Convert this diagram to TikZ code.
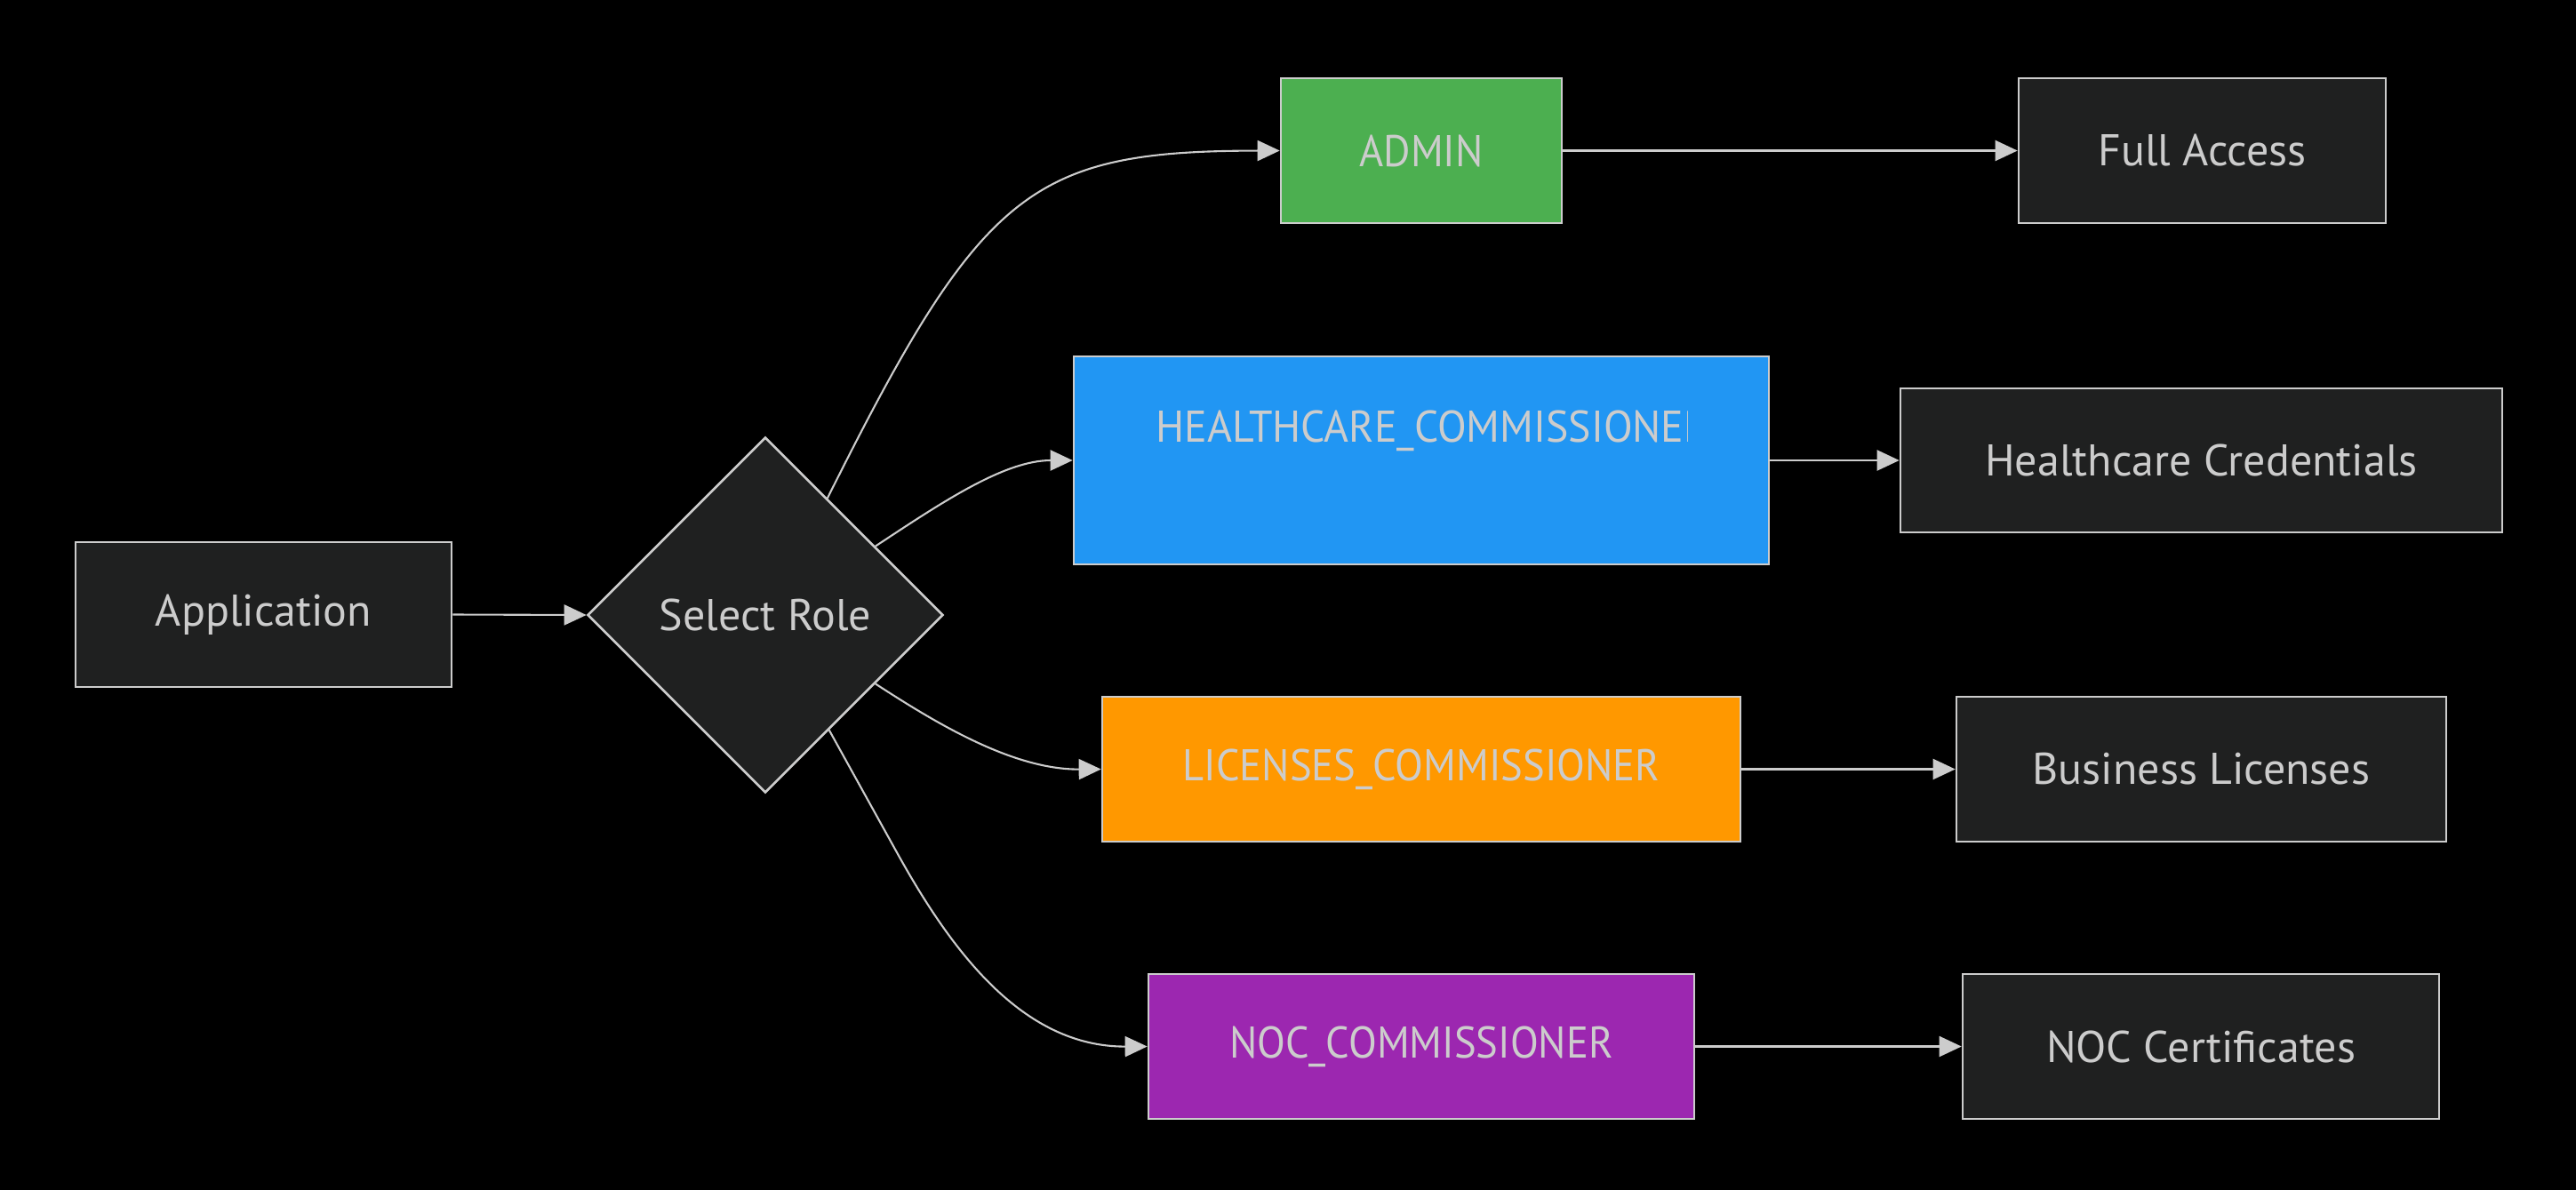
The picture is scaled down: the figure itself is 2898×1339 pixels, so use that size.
\documentclass[tikz,border=0pt]{standalone}
\usepackage{fontspec}
\setmainfont{PT Sans}
\newfontfamily\capsfont[FakeStretch=0.93]{PT Sans}
\newfontfamily\capsfontwide[FakeStretch=0.956]{PT Sans}
\usetikzlibrary{arrows.meta,shapes.geometric}
\definecolor{bgdark}{HTML}{1F2020}
\definecolor{edgegray}{HTML}{CCCCCC}
\definecolor{txtgray}{HTML}{CCCCCC}
\definecolor{cgreen}{HTML}{4CAF50}
\definecolor{cblue}{HTML}{2196F3}
\definecolor{corange}{HTML}{FF9800}
\definecolor{cpurple}{HTML}{9C27B0}
\tikzset{
  box/.style={draw=edgegray, line width=1.3pt, fill=bgdark, rectangle, inner sep=0pt,
    text=txtgray, font=\fontsize{25}{30}\selectfont},
  capsbox/.style={box, font=\capsfont\fontsize{25}{30}\selectfont},
  diam/.style={draw=edgegray, line width=1.3pt, fill=bgdark, diamond, aspect=1, inner sep=0pt,
    minimum width=200pt, minimum height=200pt, text=txtgray, font=\fontsize{25}{30}\selectfont},
  conn/.style={draw=edgegray, line width=1.05pt, -{Triangle[length=12.5pt,width=11.5pt]}, color=edgegray},
}
\begin{document}
\begin{tikzpicture}[x=0.5pt,y=-0.5pt]
\fill[black] (0,0) rectangle (2898,1339);
\useasboundingbox (0,0) rectangle (2898,1339);

% nodes
\node[box, minimum width=211.5pt, minimum height=81.5pt] (app) at (296.5,691.5) {Application};
\node[diam] (sel) at (861,692) {Select Role};
\node[capsbox, fill=cgreen, minimum width=158pt, minimum height=81.5pt] (admin) at (1599,169.5) {ADMIN};
\node[capsbox, fill=cblue, minimum width=391pt, minimum height=117pt] (hc) at (1599,518) {};
\node[capsbox, fill=corange, minimum width=359pt, minimum height=81.5pt] (lic) at (1599,865.5) {LICENSES\_COMMISSIONER};
\node[capsbox, fill=cpurple, minimum width=307pt, minimum height=81.5pt] (noc) at (1599,1177.5) {NOC\_COMMISSIONER};
\node[box, minimum width=206.5pt, minimum height=81.5pt] (full) at (2477.5,169.5) {Full Access};
\node[box, minimum width=338.5pt, minimum height=81pt] (hcc) at (2476.5,518) {Healthcare Credentials};
\node[box, minimum width=275.5pt, minimum height=81.5pt] (bus) at (2476.5,865.5) {Business Licenses};
\node[box, minimum width=268pt, minimum height=81.5pt] (nocc) at (2476,1177.5) {NOC Certificates};

% clipped first line of the blue node
\begin{scope}
\clip (1290,440) rectangle (1898,520);
\node[anchor=base west, inner sep=0pt, text=txtgray, font=\capsfontwide\fontsize{25}{30}\selectfont] (hctext) at (1300,497) {HEALTHCARE\_COMMISSIONER};
\end{scope}

% connectors
\draw[conn] (app.east) -- (sel.west);
\draw[conn] (sel.62) .. controls (1105,211) and (1161,170) .. (admin.west);
\draw[conn] (sel.32) .. controls (1060,565) and (1130,518) .. (hc.west);
\draw[conn] (sel.-32) .. controls (1055,815) and (1140,866) .. (lic.west);
\draw[conn] (sel.-61) -- (1010,961) .. controls (1070,1069) and (1150,1178) .. (noc.west);
\draw[conn] (admin.east) -- (full.west);
\draw[conn] (hc.east) -- (hcc.west);
\draw[conn] (lic.east) -- (bus.west);
\draw[conn] (noc.east) -- (nocc.west);
\end{tikzpicture}
\end{document}
